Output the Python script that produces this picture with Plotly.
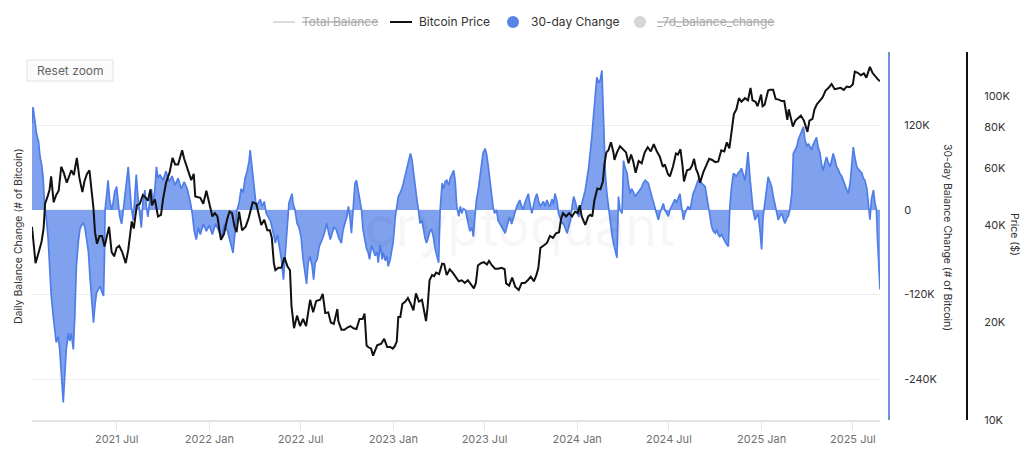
import numpy as np
import plotly.graph_objects as go

# ---------------- DATA ----------------
# 30-day balance change, thousands of BTC
chg_2021_days = ["01-14","01-16","01-20","01-23","01-27","01-30",
                 "02-02","02-05","02-08","02-11","02-15","02-18","02-21","02-25","02-28",
                 "03-03","03-07","03-10","03-13","03-17","03-20","03-23","03-27","03-30",
                 "04-02","04-06","04-09","04-12","04-16","04-19","04-22","04-26","04-29",
                 "05-02","05-06","05-09","05-12","05-16","05-19","05-22","05-26","05-29",
                 "06-01","06-05","06-07","06-08","06-11","06-14","06-17","06-21","06-24","06-27",
                 "07-01","07-04","07-07","07-11","07-15","07-19","07-24","07-27","07-30",
                 "08-03","08-06","08-09","08-12","08-16","08-19","08-22","08-26","08-29",
                 "09-01","09-05","09-08","09-11","09-15","09-18","09-21","09-25",
                 "10-01","10-07","10-13","10-19","10-25","10-31",
                 "11-06","11-12","11-18","11-24","11-28",
                 "12-02","12-06","12-10","12-14","12-20","12-26"]
chg_2021_vals = [123,146,125,108,97,75,
                 65,47,5,-9,-40,-80,-120,-150,-175,
                 -188,-180,-198,-230,-273,-235,-198,-175,-186,
                 -175,-198,-150,-80,-45,-28,-22,-19,-25,
                 -38,-60,-94,-130,-160,-135,-118,-112,-108,
                 -115,-122,-60,0,20,42,15,0,10,25,
                 33,10,-9,-20,10,30,61,30,5,
                 -15,20,50,20,-5,-25,10,28,5,
                 -10,15,30,10,30,61,45,50,
                 42,55,40,48,35,45,
                 30,40,30,12,-5,
                 -30,-42,-25,-35,-20,-30]

chg_2022_days = ["01-01","01-07","01-13","01-19","01-25","01-31",
                 "02-06","02-12","02-17","02-21","02-25",
                 "03-01","03-05","03-09","03-13","03-17","03-21","03-23","03-27","03-31",
                 "04-04","04-08","04-12","04-16","04-20","04-24","04-28",
                 "05-02","05-07","05-12","05-16","05-20","05-24","05-28",
                 "06-01","06-05","06-08","06-14","06-16","06-20","06-24","06-28",
                 "07-02","07-06","07-10","07-13","07-16","07-20","07-24","07-27","07-30",
                 "08-03","08-07","08-11","08-15","08-19","08-22","08-25","08-29",
                 "09-01","09-05","09-10","09-15","09-20","09-23","09-27",
                 "10-01","10-04","10-07","10-10","10-13","10-17","10-20","10-23","10-27","10-30",
                 "11-02","11-06","11-09","11-12","11-15","11-19","11-22","11-26","11-30",
                 "12-02","12-06","12-10","12-12","12-16","12-19","12-22","12-26","12-30"]
chg_2022_vals = [-22,-35,-20,-28,-40,-20,
                 -30,-45,-61,-30,0,
                 10,30,25,45,55,70,85,55,30,
                 5,10,15,5,12,-5,-10,
                 -15,-30,-47,-35,-55,-70,-99,
                 -56,-20,10,23,10,0,-19,-25,
                 -38,-70,-90,-105,-75,-66,-80,-99,-75,
                 -70,-52,-45,-38,-28,-19,-30,-42,
                 -35,-25,-28,-40,-47,-30,-19,
                 -10,5,-10,-33,0,38,42,30,14,0,
                 -28,-42,-55,-60,-70,-50,-56,-65,-60,
                 -75,-50,-70,-60,-72,-65,-80,-70,-56]

chg_2023_days = ["01-01","01-05","01-08","01-11","01-15","01-18","01-21","01-25","01-28","01-31",
                 "02-04","02-07","02-10","02-14","02-17","02-20","02-23","02-27",
                 "03-02","03-05","03-08","03-12","03-15","03-18","03-22","03-25","03-28",
                 "04-01","04-04","04-08","04-11","04-14","04-17","04-21","04-24","04-27",
                 "05-01","05-04","05-07","05-11","05-14","05-17","05-20","05-24","05-27","05-30",
                 "06-02","06-06","06-09","06-12","06-15","06-19","06-22","06-25","06-28",
                 "07-02","07-05","07-08","07-11","07-15","07-18","07-21","07-25","07-28",
                 "08-01","08-04","08-07","08-11","08-14","08-17","08-20","08-24","08-27","08-30",
                 "09-03","09-06","09-09","09-13","09-16","09-19","09-23","09-26","09-29",
                 "10-03","10-06","10-09","10-13","10-16","10-19","10-23","10-26","10-29",
                 "11-02","11-05","11-08","11-12","11-15","11-18","11-22","11-25","11-28",
                 "12-02","12-05","12-09","12-12","12-15","12-19","12-22","12-25","12-29"]
chg_2023_vals = [-45,-10,5,19,25,30,38,50,61,70,
                 80,72,52,35,14,0,-19,-15,
                 -28,-40,-47,-38,-30,-28,-40,-55,-65,
                 -75,0,38,30,40,42,35,45,50,
                 56,40,5,-9,5,-5,2,0,-10,-20,
                 -30,-25,-38,-10,14,30,47,60,80,
                 87,80,65,47,20,5,-5,0,-15,
                 -20,-25,-28,-33,-25,-19,-10,-20,-14,-5,
                 5,10,14,5,0,10,18,23,10,
                 -5,5,15,23,15,5,9,12,5,
                 14,8,5,15,8,23,12,-5,-10,
                 -19,-20,-28,-33,-25,-14,5,19,10]

chg_2024_days = ["01-01","01-04","01-07","01-11","01-17","01-24","01-27","01-30",
                 "02-02","02-06","02-09","02-13","02-16","02-19","02-21","02-23","02-26","02-29",
                 "03-03","03-06","03-10","03-13","03-16","03-20","03-23","03-26","03-30",
                 "04-02","04-05","04-09","04-12","04-15","04-18","04-22","04-25","04-28",
                 "05-01","05-05","05-08","05-11","05-15","05-18","05-21","05-24","05-28","05-31",
                 "06-03","06-07","06-10","06-13","06-17","06-20","06-23","06-26","06-30",
                 "07-03","07-06","07-10","07-13","07-16","07-20","07-23","07-26","07-30",
                 "08-02","08-05","08-08","08-12","08-15","08-18","08-22","08-25","08-28",
                 "09-01","09-04","09-07","09-11","09-14","09-17","09-21","09-24","09-27",
                 "10-01","10-04","10-07","10-10","10-14","10-17","10-20","10-23","10-27","10-30",
                 "11-02","11-06","11-09","11-12","11-15","11-19","11-22","11-25","11-29",
                 "12-02","12-05","12-09","12-12","12-15","12-19","12-22","12-25","12-29"]
chg_2024_vals = [0,-10,0,10,28,61,80,103,
                 130,169,188,180,185,198,150,94,50,23,
                 5,-19,-35,-47,-55,-68,19,0,-5,
                 70,60,52,35,23,30,25,19,22,
                 25,28,32,38,42,40,38,30,19,12,
                 5,-5,-14,-5,5,9,0,-5,-9,
                 0,5,10,15,10,18,23,5,-14,
                 -5,0,5,0,10,23,30,35,42,
                 40,38,36,33,20,5,-10,-24,-30,
                 -33,-28,-35,-38,-35,-40,-45,-48,-52,5,
                 30,52,50,47,52,55,59,50,42,
                 60,82,45,19,0,-14,-8,-5,-30]

chg_2025_days = ["01-01","01-04","01-08","01-11","01-14","01-18","01-21","01-24","01-28","01-31",
                 "02-03","02-07","02-10","02-13","02-16","02-20","02-23","02-26",
                 "03-02","03-05","03-09","03-12","03-15","03-18","03-22","03-25","03-28",
                 "04-01","04-04","04-07","04-10","04-13","04-17","04-20","04-23","04-27","04-30",
                 "05-03","05-07","05-10","05-13","05-17","05-20","05-23","05-27","05-30",
                 "06-02","06-05","06-09","06-12","06-15","06-19","06-22","06-26","06-29",
                 "07-02","07-05","07-09","07-12","07-15","07-19","07-22","07-25","07-29",
                 "08-01","08-04","08-07","08-11","08-14","08-17","08-19","08-21","08-22","08-24"]
chg_2025_vals = [-56,-10,9,30,47,40,33,20,5,-5,
                 -14,-8,-5,-12,-19,-12,-9,0,
                 23,80,85,90,100,105,112,118,100,
                 90,94,90,85,92,98,103,90,80,65,
                 56,68,75,68,61,70,80,70,61,
                 58,52,48,42,35,28,23,40,70,
                 89,75,61,58,56,52,45,42,30,
                 10,-14,15,28,10,0,-40,-66,-95,-113]

# Bitcoin price, thousands of USD
px_2021_days = ["01-14","01-17","01-21","01-25","01-29","02-02","02-06","02-09","02-14","02-18","02-21","02-26",
                "03-03","03-08","03-13","03-18","03-24","03-28","04-02","04-07","04-13","04-18","04-24","04-28",
                "05-03","05-08","05-12","05-16","05-19","05-23","05-28","06-02","06-07","06-12","06-16","06-21","06-26",
                "07-01","07-06","07-12","07-19","07-24","07-31","08-04","08-10","08-16","08-22","08-28",
                "09-01","09-06","09-09","09-15","09-21","09-27","10-01","10-07","10-14","10-20","10-25","10-31",
                "11-08","11-12","11-17","11-22","11-26","12-01","12-04","12-14","12-20","12-26","12-31"]
px_2021_vals = [39.5,36,30.5,32,34,35.5,39,46.5,49,51.5,56.5,47,
                49.5,51,60.5,58,54,56,59,57,64.4,56,50.5,54.5,
                57.5,59,52,45,38,35,37,37,34.3,37.5,39.5,33,32,
                34,34.5,33,30.5,33.5,41,39,46,46.5,49.5,48.5,
                47.5,51.5,46,48,42.5,43,48,54,58,64.5,61.5,61.5,
                68,64,60.5,57,55,57.5,49,48.5,46.5,51,47]

px_2022_days = ["01-07","01-12","01-17","01-21","01-24","01-30","02-05","02-10","02-15","02-20","02-24",
                "03-01","03-07","03-14","03-20","03-28","04-04","04-10","04-14","04-20","04-26",
                "05-01","05-05","05-09","05-12","05-18","05-24","05-30","06-05","06-10","06-13","06-18","06-24","06-30",
                "07-06","07-12","07-20","07-26","08-01","08-09","08-14","08-19","08-25","08-30",
                "09-05","09-12","09-14","09-20","09-26","10-02","10-08","10-14","10-20","10-26",
                "11-01","11-05","11-09","11-12","11-18","11-22","11-30","12-08","12-14","12-20","12-26","12-31"]
px_2022_vals = [42.5,43.5,42.5,38.5,36,37.5,41.5,44,43.5,39.5,38,
                44,38.5,39.5,42,47,46.5,42.5,40,41.5,38.5,
                38.5,36.5,30.5,29,29.5,29.5,31.8,29.8,29,22.5,19.2,21,19.5,
                20.5,19.5,23.5,21.5,23.3,23.5,24.5,21.4,21.5,20,
                19.8,22,20.2,19,19,19.3,19.5,19.2,19.1,20.5,
                20.5,21.3,17,16.8,16.6,15.8,17,17.2,17.8,16.8,16.8,16.6]

px_2023_days = ["01-04","01-08","01-11","01-15","01-19","01-25","01-30","02-05","02-10","02-15","02-21","02-27",
                "03-07","03-10","03-14","03-19","03-23","03-27","04-02","04-08","04-12","04-17","04-23","04-29",
                "05-05","05-11","05-17","05-23","05-29","06-04","06-10","06-14","06-18","06-24","06-30",
                "07-06","07-10","07-16","07-22","07-28","08-04","08-10","08-13","08-19","08-25","08-31",
                "09-07","09-13","09-19","09-25","10-01","10-07","10-12","10-16","10-20","10-26",
                "11-02","11-08","11-14","11-20","11-26","11-30","12-04","12-10","12-16","12-22","12-28"]
px_2023_vals = [16.9,17.5,20.8,20.8,22.8,23.2,23.8,22.8,21.8,24.6,23.2,23.5,
                20.2,22.2,27,28,27.8,28.5,28.2,30.4,30.3,28,29.2,28.5,
                27.7,26.8,27,26.5,27,26.3,25.5,26.5,30,30.5,30.7,
                30.2,31,30,29.3,29.3,29.5,29.2,26.4,26,27.5,25.8,
                25.2,26.5,26.5,27,27.7,26.8,28,29.5,34,34.5,
                35.2,37,36.5,37.7,38,41.8,43.5,42.5,43.5,42.5,44]

px_2024_days = ["01-02","01-06","01-10","01-17","01-23","01-27","01-31","02-04","02-10","02-16","02-21","02-24","02-28",
                "03-03","03-08","03-13","03-15","03-20","03-26","04-01","04-07","04-12","04-17","04-21","04-26",
                "05-02","05-08","05-14","05-20","05-26","06-01","06-07","06-13","06-19","06-23","06-29",
                "07-03","07-09","07-15","07-19","07-24","07-28","07-31","08-06","08-12","08-16","08-20","08-24","08-28",
                "09-01","09-07","09-13","09-19","09-25","10-01","10-07","10-13","10-19","10-24","10-29",
                "11-02","11-07","11-12","11-17","11-22","11-29","12-05","12-10","12-14","12-20","12-24","12-31"]
px_2024_vals = [43.5,46,42.5,40,42.5,43,42.5,47.5,51.8,51.5,54.5,61.5,67,
                68,72,67,63.5,67,70,68.5,67,62,66,63,58,
                63,62,67,69.5,67.5,71,67.5,65,60.5,61.5,57.5,
                56.5,60.5,66.5,66,68.5,61,54.5,59,59.5,61,64,59.5,57.5,
                54,58,61,64,63.5,62.5,62.8,68,67.5,72,69,
                76,88,91,98.5,96,98.5,97,106,97,96,93,101]

px_2025_days = ["01-03","01-07","01-14","01-18","01-24","01-29","02-04","02-10","02-15","02-21","02-24",
                "03-04","03-09","03-14","03-20","03-26","04-02","04-06","04-12","04-16","04-21","04-26",
                "05-02","05-08","05-14","05-20","05-26","06-01","06-07","06-13","06-19","06-25",
                "07-01","07-05","07-11","07-17","07-23","07-28","08-04","08-09","08-14","08-19","08-24"]
px_2025_vals = [93,94,104,104.5,104.5,98,97.5,96.5,96.5,84.5,91,
                80.5,84,85.5,87,84,77.5,84,85,91,94.5,96.5,
                99,104,106,109,105,105.5,106,104.5,107,106.5,
                108.5,119,118,116,117.5,114,123,118,115,113,111]

x_tick_vals = ["2021-07-01","2022-01-01","2022-07-01","2023-01-01","2023-07-01",
               "2024-01-01","2024-07-01","2025-01-01","2025-07-01"]
x_tick_text = ["2021 Jul","2022 Jan","2022 Jul","2023 Jan","2023 Jul",
               "2024 Jan","2024 Jul","2025 Jan","2025 Jul"]
chg_tick_vals = [120000, 0, -120000, -240000]
chg_tick_text = ["120K", "0", "-120K", "-240K"]
price_tick_vals = [10000, 20000, 40000, 60000, 80000, 100000]
price_tick_text = ["10K", "20K", "40K", "60K", "80K", "100K"]

# ---------------- assemble series ----------------
def join(year_lists):
    d, v = [], []
    for year, days, vals in year_lists:
        assert len(days) == len(vals), (year, len(days), len(vals))
        d += [f"{year}-{s}" for s in days]
        v += list(vals)
    return d, np.array(v, dtype=float) * 1000

change_dates, change_values = join([(2021, chg_2021_days, chg_2021_vals),
                                    (2022, chg_2022_days, chg_2022_vals),
                                    (2023, chg_2023_days, chg_2023_vals),
                                    (2024, chg_2024_days, chg_2024_vals),
                                    (2025, chg_2025_days, chg_2025_vals)])
price_dates, price_values = join([(2021, px_2021_days, px_2021_vals),
                                  (2022, px_2022_days, px_2022_vals),
                                  (2023, px_2023_days, px_2023_vals),
                                  (2024, px_2024_days, px_2024_vals),
                                  (2025, px_2025_days, px_2025_vals)])

# ---------------- layout geometry (pixels) ----------------
W, H = 1024, 461
PL, PR, PT, PB = 32, 967, 52, 420     # paper box
PLOT_R = 880                         # right end of x-axis domain
def fx(x): return (x - PL) / (PR - PL)
def fy(y): return (PB - y) / (PB - PT)

FONT = "Inter, Roboto, 'DejaVu Sans', sans-serif"
BLUE = "#4f7ee8"
chg_range = [-298000, 224000]

fig = go.Figure()
fig.add_trace(go.Scatter(
    x=change_dates, y=change_values, mode="lines", yaxis="y",
    line=dict(color=BLUE, width=1.7), fill="tozeroy",
    fillcolor="rgba(92,134,232,0.78)", showlegend=False, hoverinfo="skip"))
fig.add_trace(go.Scatter(x=[None], y=[None], yaxis="y2", showlegend=False,
                         hoverinfo="skip"))
fig.add_trace(go.Scatter(
    x=price_dates, y=price_values, mode="lines", yaxis="y3",
    line=dict(color="#111111", width=2), showlegend=False, hoverinfo="skip"))

fig.update_layout(
    width=W, height=H,
    margin=dict(l=PL, r=W - PR, t=PT, b=H - PB),
    paper_bgcolor="white", plot_bgcolor="white",
    font=dict(family=FONT, size=11, color="#666666"),
    showlegend=False,
    xaxis=dict(domain=[0, fx(PLOT_R)], type="date",
               range=["2021-01-14", "2025-08-24"],
               tickvals=x_tick_vals, ticktext=x_tick_text,
               ticks="outside", ticklen=8, tickcolor="#e6e6e6", tickwidth=1,
               showline=True, linecolor="#e3e3e3", linewidth=2,
               showgrid=False, zeroline=False,
               tickfont=dict(family=FONT, size=11, color="#707070")),
    yaxis=dict(range=chg_range, tickvals=chg_tick_vals, showticklabels=False,
               showgrid=True, gridcolor="#efefef", gridwidth=1,
               zeroline=False, showline=False, ticks=""),
    yaxis2=dict(range=chg_range, overlaying="y", anchor="free",
                position=fx(889), side="right",
                tickvals=chg_tick_vals, ticktext=chg_tick_text,
                showline=True, linecolor="#6f93de", linewidth=2,
                showgrid=False, zeroline=False, ticks="",
                ticklabelstandoff=12,
                tickfont=dict(family=FONT, size=11, color="#333333")),
    yaxis3=dict(type="log", range=[4, 5.136], overlaying="y", anchor="free",
                position=1.0, side="right",
                tickvals=price_tick_vals, ticktext=price_tick_text,
                showline=True, linecolor="#111111", linewidth=2,
                showgrid=False, zeroline=False, ticks="",
                ticklabelstandoff=14,
                tickfont=dict(family=FONT, size=11, color="#333333")),
)

annotations = [
    dict(text="cryptoquant", x=fx(520), y=fy(226),
         font=dict(family=FONT, size=54, color="rgba(0,0,0,0.035)")),
    dict(text="Daily Balance Change (# of Bitcoin)", x=fx(18), y=fy(236),
         textangle=-90, font=dict(family=FONT, size=10.5, color="#333333")),
    dict(text="30-day Balance Change (# of Bitcoin)", x=fx(948), y=fy(237),
         textangle=90, font=dict(family=FONT, size=10.5, color="#333333")),
    dict(text="Price ($)", x=fx(1015), y=fy(235), textangle=90,
         font=dict(family=FONT, size=10.5, color="#333333")),
    dict(text="Reset zoom", x=fx(70), y=fy(70.5),
         font=dict(family=FONT, size=12, color="#666666")),
    # legend texts
    dict(text="<s>Total Balance</s>", x=fx(300), y=fy(22), xanchor="left",
         font=dict(family=FONT, size=12, color="#a8a8a8")),
    dict(text="Bitcoin Price", x=fx(417), y=fy(22), xanchor="left",
         font=dict(family=FONT, size=12, color="#333333")),
    dict(text="30-day Change", x=fx(529), y=fy(22), xanchor="left",
         font=dict(family=FONT, size=12, color="#333333")),
    dict(text="<s>_7d_balance_change</s>", x=fx(655), y=fy(22), xanchor="left",
         font=dict(family=FONT, size=12, color="#a8a8a8")),
]
for a in annotations:
    a.setdefault("xref", "paper")
    a.setdefault("yref", "paper")
    a.setdefault("xanchor", "center")
    a.setdefault("yanchor", "middle")
    a.setdefault("showarrow", False)
fig.update_layout(annotations=annotations)

shapes = [
    dict(type="rect", x0=fx(27), x1=fx(113), y0=fy(60), y1=fy(81),
         line=dict(color="#e2e2e2", width=1), fillcolor="#fbfbfb", layer="above"),
    dict(type="line", x0=fx(273), x1=fx(295), y0=fy(22), y1=fy(22),
         line=dict(color="#d0d0d0", width=1.5)),
    dict(type="line", x0=fx(390), x1=fx(412), y0=fy(22), y1=fy(22),
         line=dict(color="#111111", width=2)),
    dict(type="circle", x0=fx(507), x1=fx(519), y0=fy(16), y1=fy(28),
         line=dict(width=0), fillcolor="#5784e6"),
    dict(type="circle", x0=fx(634), x1=fx(646), y0=fy(16), y1=fy(28),
         line=dict(width=0), fillcolor="#d6d6d6"),
]
for s in shapes:
    s["xref"] = "paper"
    s["yref"] = "paper"
fig.update_layout(shapes=shapes)

fig.write_html("out.html", config={"displayModeBar": False})
